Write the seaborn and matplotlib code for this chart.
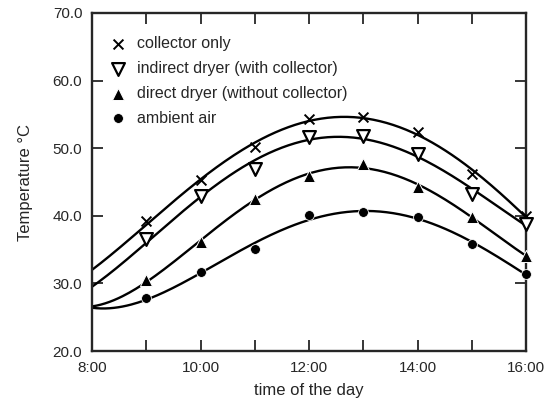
import numpy as np
import pandas as pd
import matplotlib
matplotlib.use("Agg")
import matplotlib.pyplot as plt
import seaborn as sns

# hours of the day (8:00 start value has no marker, only the curve start)
hours = [8, 9, 10, 11, 12, 13, 14, 15, 16]
collector = [32.0, 39.2, 45.3, 50.2, 54.3, 54.6, 52.4, 46.2, 40.0]
indirect = [29.5, 36.6, 43.0, 47.0, 51.7, 51.8, 49.1, 43.2, 38.8]
direct = [26.6, 30.5, 36.1, 42.5, 45.9, 47.7, 44.3, 39.8, 34.1]
ambient = [26.4, 27.9, 31.7, 35.1, 40.1, 40.6, 39.8, 35.8, 31.4]

series_names = ["collector only", "indirect dryer (with collector)",
                "direct dryer (without collector)", "ambient air"]
x_labels = ["8:00", "", "10:00", "", "12:00", "", "14:00", "", "16:00"]
y_ticks = [20, 30, 40, 50, 60, 70]
y_labels = ["20.0", "30.0", "40.0", "50.0", "60.0", "70.0"]

sns.set_style("ticks")
plt.rcParams["font.family"] = ["Liberation Sans", "DejaVu Sans"]

df = pd.DataFrame({"hour": hours, series_names[0]: collector,
                   series_names[1]: indirect, series_names[2]: direct,
                   series_names[3]: ambient})
long = df.melt(id_vars="hour", var_name="series", value_name="temp")

fig = plt.figure(figsize=(5.58, 4.18), dpi=100)
ax = fig.add_axes([0.165, 0.160, 0.778, 0.809])

# smooth fitted curves through the measured points
# (the 8:00 start gets extra weight so the curves leave the axis there)
w = np.array([3, 1, 1, 1, 1, 1, 1, 1, 1], float)
for name in series_names:
    coef = np.polyfit(df["hour"], df[name], 4, w=w)
    xs = np.linspace(8, 16, 200)
    sns.lineplot(x=xs, y=np.polyval(coef, xs), color="black", lw=1.7, ax=ax)

styles = {
    series_names[0]: dict(marker="x", s=50, color="black", linewidths=1.4),
    series_names[1]: dict(marker="v", s=85, facecolors="white", edgecolors="black", linewidths=1.6),
    series_names[2]: dict(marker="^", s=75, color="black"),
    series_names[3]: dict(marker="o", s=50, color="black"),
}
pts = long[long["hour"] > 8]
for name in series_names:
    sub = pts[pts["series"] == name]
    sns.scatterplot(data=sub, x="hour", y="temp", ax=ax, label=name,
                    zorder=3, clip_on=False, **styles[name])

ax.set_xlim(8, 16)
ax.set_ylim(20, 70)
ax.set_xticks(hours)
ax.set_xticklabels(x_labels)
ax.set_yticks(y_ticks)
ax.set_yticklabels(y_labels)
ax.tick_params(direction="in", top=True, right=True, length=8, width=1.3,
               labelsize=11, pad=7)
for sp in ax.spines.values():
    sp.set_linewidth(1.7)
ax.set_xlabel("time of the day", fontsize=12, labelpad=6)
ax.set_ylabel("Temperature °C", fontsize=12, labelpad=14)

ax.legend(loc="upper left", bbox_to_anchor=(0.026, 0.951), borderaxespad=0,
          frameon=False, fontsize=11.5, handletextpad=0.7,
          labelspacing=0.62, handlelength=1.0)

fig.savefig("out.png", dpi=100)
